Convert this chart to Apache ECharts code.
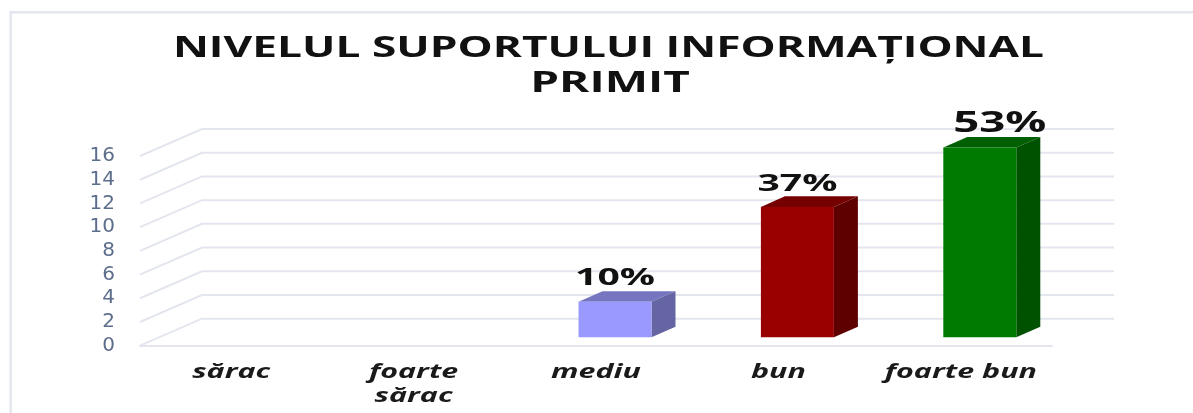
<!DOCTYPE html>
<html><head><meta charset="utf-8">
<style>html,body{margin:0;padding:0;background:#fff}#c{width:1193px;height:413px}</style>
<script src="https://cdn.jsdelivr.net/npm/echarts@6/dist/echarts.min.js"></script>
</head><body><div id="c"></div>
<script>
const categories = ['sărac', 'foarte\nsărac', 'mediu', 'bun', 'foarte bun'];
const values = [0, 0, 3, 11, 16];
const percentLabels = ['', '', '10%', '37%', '53%'];
const labelSizes = [24, 24, 24, 24, 28];
const labelShifts = [0, 0, 0, 0, 20];
const faceColors = ['#9999ff', '#9999ff', '#9999ff', '#990000', '#007a00'];
const topColors = ['#7a7ac2', '#7a7ac2', '#7676c0', '#750000', '#005f00'];
const sideColors = ['#6666a3', '#6666a3', '#6565a3', '#5f0000', '#005200'];
const yTicks = [0, 2, 4, 6, 8, 10, 12, 14, 16];
const titleLines = ['NIVELUL SUPORTULUI INFORMAȚIONAL', 'PRIMIT'];

const GRID = '#e3e6ee';
const DEPTH = {x: 62, y: -27};
const FRONT = {x: 19, y: -8.4};
const BACK = {x: 43, y: -19};
const BAR_W = 73;
const FONT = '"Open Sans"';

const chart = echarts.init(document.getElementById('c'), null, {renderer: 'canvas'});
chart.setOption({
  animation: false,
  backgroundColor: '#fff',
  grid: {left: 140, right: 141, top: 156, bottom: 67.3, containLabel: false, outerBoundsMode: 'none'},
  xAxis: {
    type: 'category', data: categories,
    axisTick: {show: false},
    axisLine: {lineStyle: {color: GRID, width: 2}},
    axisLabel: {show: false}
  },
  yAxis: {
    type: 'value', min: 0, max: 16, interval: 2,
    axisLine: {show: false}, axisTick: {show: false}, splitLine: {show: false},
    axisLabel: {color: '#5d6d8c', fontFamily: 'DejaVu Sans', fontSize: 20, margin: 25}
  },
  graphic: [
    {type: 'polyline', silent: true, z: 0, shape: {points: [[10.7, 413], [10.7, 12.3], [1193, 12.3]]},
     style: {stroke: GRID, lineWidth: 2.5, fill: null}},
    {type: 'text', z: 5, x: 608.5, y: 49, scaleX: 1.58, style: {text: titleLines[0], x: 0, y: 0,
      textAlign: 'center', textVerticalAlign: 'middle', fontFamily: FONT, fontWeight: 'bold', fontSize: 28, fill: '#111'}},
    {type: 'text', z: 5, x: 610, y: 84, scaleX: 1.64, style: {text: titleLines[1], x: 0, y: 0,
      textAlign: 'center', textVerticalAlign: 'middle', fontFamily: FONT, fontWeight: 'bold', fontSize: 28, fill: '#111'}}
  ],
  series: [
    {
      type: 'custom', coordinateSystem: 'cartesian2d', silent: true, z: 1,
      data: yTicks.map(v => [0, v]),
      encode: {x: 0, y: 1},
      renderItem(params, api) {
        const v = api.value(1);
        const size = api.size([1, 0]);
        const c = api.coord([0, v]);
        const left = c[0] - size[0] / 2;
        const right = left + size[0] * categories.length + DEPTH.x;
        const by = c[1] + DEPTH.y;
        return {type: 'polyline', shape: {points: [[left, c[1]], [left + DEPTH.x, by], [right, by]]},
          style: {stroke: GRID, lineWidth: 2, fill: null}};
      }
    },
    {
      type: 'custom', coordinateSystem: 'cartesian2d', silent: true, z: 3,
      data: categories.map((c, i) => [i, 0]),
      encode: {x: 0, y: 1},
      renderItem(params, api) {
        const i = api.value(0);
        const c = api.coord([i, 0]);
        return {type: 'text', x: c[0], y: c[1] + 15, scaleX: 1.6,
          style: {text: categories[i], x: 0, y: 0, textAlign: 'center', textVerticalAlign: 'top',
            fontFamily: FONT, fontWeight: 'bold', fontStyle: 'italic', fontSize: 19, lineHeight: 24, fill: '#1a1a1a'}};
      }
    },
    {
      type: 'custom', coordinateSystem: 'cartesian2d', silent: true, z: 3,
      data: values.map((v, i) => [i, v]),
      encode: {x: 0, y: 1},
      renderItem(params, api) {
        const i = api.value(0), v = api.value(1);
        if (!v) return {type: 'group', children: []};
        const t = api.coord([i, v]), b = api.coord([i, 0]);
        const x0 = t[0] + FRONT.x - BAR_W / 2, x1 = x0 + BAR_W;
        const y0 = t[1] + FRONT.y, y1 = b[1] + FRONT.y;
        const dx = BACK.x - FRONT.x, dy = BACK.y - FRONT.y;
        return {type: 'group', children: [
          {type: 'polygon', shape: {points: [[x0, y0], [x1, y0], [x1 + dx, y0 + dy], [x0 + dx, y0 + dy]]}, style: {fill: topColors[i]}},
          {type: 'polygon', shape: {points: [[x1, y0], [x1 + dx, y0 + dy], [x1 + dx, y1 + dy], [x1, y1]]}, style: {fill: sideColors[i]}},
          {type: 'rect', shape: {x: x0, y: y0, width: BAR_W, height: y1 - y0}, style: {fill: faceColors[i]}},
          {type: 'text', x: (x0 + x1) / 2 + labelShifts[i], y: y0 + dy - 12.5, scaleX: 1.63,
           style: {text: percentLabels[i], x: 0, y: 0, textAlign: 'center', textVerticalAlign: 'middle',
             fontFamily: FONT, fontWeight: 'bold', fontSize: labelSizes[i], fill: '#111'}}
        ]};
      }
    }
  ]
});
</script></body></html>
